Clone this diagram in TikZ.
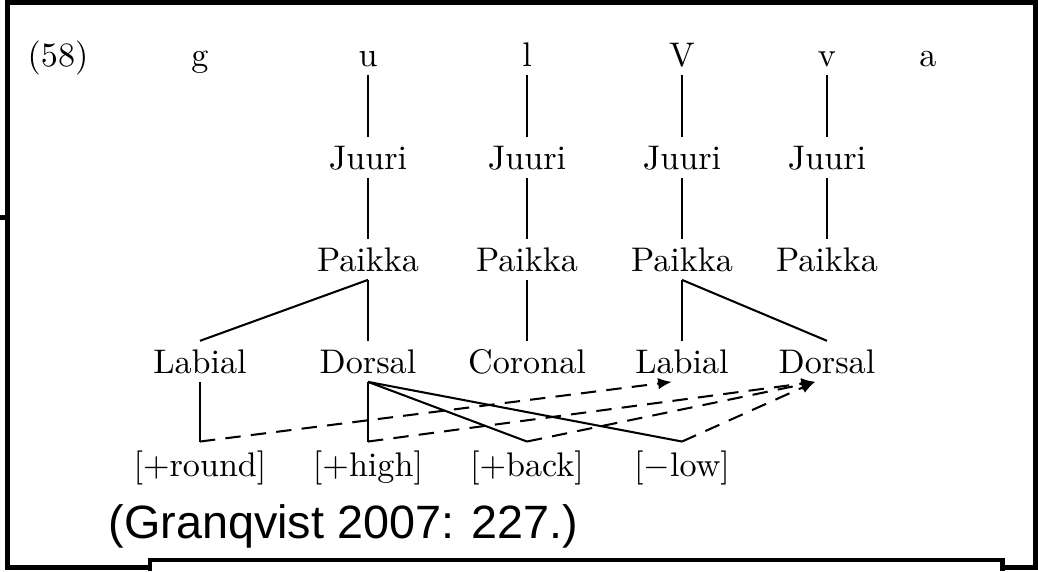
\documentclass[tikz,border=0pt]{standalone}
\usepackage{fontspec}
\newfontfamily\citefont{Liberation Sans}
\usetikzlibrary{arrows.meta}
\begin{document}
\begin{tikzpicture}[
  x=0.293pt,
  y=-0.293pt,
  seg/.style={anchor=base, inner xsep=1pt, inner ysep=2.4pt, text height=6.83pt, text depth=0pt},
  feat/.style={seg, text height=7.5pt},
  tie/.style={line width=0.6pt},
  spread/.style={line width=0.6pt, dash pattern=on 4.5pt off 3pt, -{Latex[length=4pt,width=3.4pt]}},
  frame/.style={line width=1.45pt}
]
\useasboundingbox (0,0) rectangle (1038,571);

% frame of the screenshot
\draw[frame] (7.5,2.5) rectangle (1035.5,567.5);
\draw[frame] (0,217.5) -- (7.5,217.5);
\fill[white] (150,560) rectangle (1002.5,571);
\draw[frame] (150,571) -- (150,560) -- (1002.5,560) -- (1002.5,571);

% row 0: segments
\node[seg] (ex) at (58,66) {(58)};
\node[seg] (g) at (200,66) {g};
\node[seg] (u) at (368,66) {u};
\node[seg] (l) at (527,66) {l};
\node[seg] (V) at (682,66) {V};
\node[seg] (v) at (827,66) {v};
\node[seg] (a) at (928,66) {a};

% row 1: Juuri
\node[seg] (j1) at (368,169) {Juuri};
\node[seg] (j2) at (527,169) {Juuri};
\node[seg] (j3) at (682,169) {Juuri};
\node[seg] (j4) at (827,169) {Juuri};

% row 2: Paikka
\node[seg] (p1) at (368,271) {Paikka};
\node[seg] (p2) at (527,271) {Paikka};
\node[seg] (p3) at (682,271) {Paikka};
\node[seg] (p4) at (827,271) {Paikka};

% row 3: articulators
\node[seg] (lab1) at (200,373) {Labial};
\node[seg] (dor1) at (368,373) {Dorsal};
\node[seg] (cor) at (527,373) {Coronal};
\node[seg] (lab2) at (682,373) {Labial};
\node[seg] (dor2) at (827,373) {Dorsal};

% row 4: features
\node[feat] (round) at (200,476) {[+round]};
\node[feat] (high) at (368,476) {[+high]};
\node[feat] (back) at (527,476) {[+back]};
\node[feat] (low) at (682,476) {[$-$low]};

\node[anchor=base west, inner sep=0pt, font=\citefont\fontsize{13.7}{16}\selectfont] (cite) at (108,538) {(Granqvist 2007: 227.)};

% association lines
\draw[tie] (u.south) -- (j1.north);
\draw[tie] (l.south) -- (j2.north);
\draw[tie] (V.south) -- (j3.north);
\draw[tie] (v.south) -- (j4.north);
\draw[tie] (j1.south) -- (p1.north);
\draw[tie] (j2.south) -- (p2.north);
\draw[tie] (j3.south) -- (p3.north);
\draw[tie] (j4.south) -- (p4.north);
\draw[tie] (p1.south) -- (lab1.north);
\draw[tie] (p1.south) -- (dor1.north);
\draw[tie] (p2.south) -- (cor.north);
\draw[tie] (p3.south) -- (lab2.north);
\draw[tie] (p3.south) -- (dor2.north);
\draw[tie] (lab1.south) -- (round.north);
\draw[tie] (dor1.south) -- (high.north);
\draw[tie] (dor1.south) -- (back.north);
\draw[tie] (dor1.south) -- (low.north);

% spreading
\draw[spread] (round.north) -- ([xshift=-3pt]lab2.south);
\draw[spread] (high.north) -- ([xshift=-3.5pt]dor2.south);
\draw[spread] (back.north) -- ([xshift=-3.5pt]dor2.south);
\draw[spread] (low.north) -- ([xshift=-3.5pt]dor2.south);
\end{tikzpicture}
\end{document}
